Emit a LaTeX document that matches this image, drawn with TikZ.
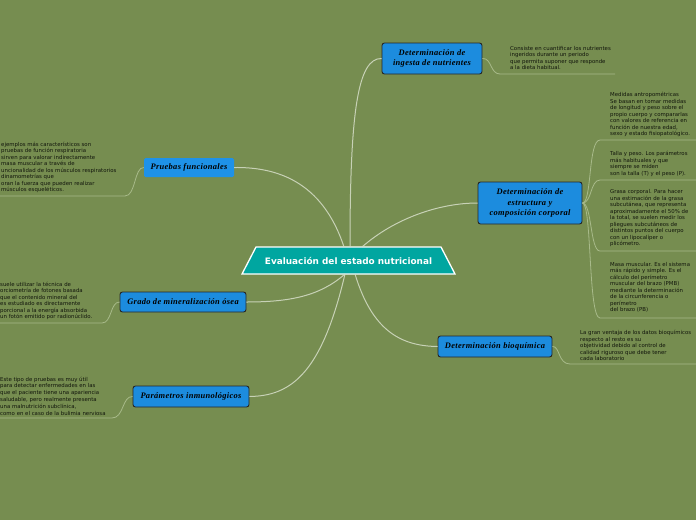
\documentclass[tikz,border=0pt]{standalone}
\usepackage{fontspec}
\setmainfont{Liberation Serif}
\newfontfamily\smallsans{DejaVu Sans}
\newfontfamily\branchfont{Liberation Serif}[LetterSpace=4.0]
\definecolor{bgc}{RGB}{118,141,80}
\definecolor{tealc}{RGB}{0,166,160}
\definecolor{boxblue}{RGB}{28,140,222}
\definecolor{lightblue}{RGB}{30,146,232}
\definecolor{mainline}{RGB}{214,222,200}
\definecolor{subline}{RGB}{168,186,138}
\definecolor{txtc}{RGB}{18,22,12}
\tikzset{
  branch/.style={draw=black!85, line width=0.9pt, fill=boxblue, rounded corners=2.5pt,
    align=center, inner sep=1pt, font=\branchfont\fontsize{8.4}{10.5}\selectfont\bfseries\itshape, text=black},
  branchlight/.style={fill=lightblue, rounded corners=1.5pt, align=center, inner sep=1pt,
    font=\branchfont\fontsize{8.4}{10.5}\selectfont\bfseries\itshape, text=black},
  note/.style={anchor=north west, align=left, inner sep=0pt, text=txtc,
    font=\smallsans\fontsize{5.4}{6.5}\selectfont},
  mainconn/.style={draw=mainline, line width=1pt, opacity=0.85},
  subconn/.style={draw=subline, line width=0.8pt},
}
\begin{document}
\begin{tikzpicture}[x=1pt,y=-1pt]
\fill[bgc] (0,0) rectangle (696,520);
\useasboundingbox (0,0) rectangle (696,520);
\clip (0,0) rectangle (696,520);

% central node
\draw[fill=tealc, draw=white, line width=1.3pt] (256,247) -- (441,247) -- (455,274) -- (242,274) -- cycle;
\node[text=white, font=\smallsans\bfseries\fontsize{8.9}{10}\selectfont] (center) at (348.5,261) {Evaluación del estado nutricional};
\coordinate (ctopL) at (344,247);
\coordinate (ctopM) at (350,247);
\coordinate (ctopR) at (362,247);
\coordinate (cbotL) at (345,274);
\coordinate (cbotR) at (355,274);

% branch nodes
\node[branch, minimum width=100pt, minimum height=31pt] (ing) at (432,58.5) {Determinación de\\ingesta de nutrientes};
\node[branch, minimum width=104pt, minimum height=42pt] (est) at (530,203) {Determinación de\\estructura y\\composición corporal};
\node[branch, minimum width=114pt, minimum height=21pt] (bio) at (495,346.5) {Determinación bioquímica};
\node[branchlight, minimum width=90pt, minimum height=19pt] (pru) at (189,167.5) {Pruebas funcionales};
\node[branch, minimum width=126pt, minimum height=20pt] (gra) at (183,302) {Grado de mineralización ósea};
\node[branch, minimum width=116pt, minimum height=21pt] (par) at (191,396.5) {Parámetros inmunológicos};

% main connectors
\draw[mainconn] (ctopM) .. controls (350,110) and (358,58) .. (ing.west);
\draw[mainconn] (ctopR) .. controls (395,218) and (440,203) .. (est.west);
\draw[mainconn] (cbotR) .. controls (372,330) and (400,346) .. (bio.west);
\draw[mainconn] (ctopL) .. controls (322,180) and (275,167) .. (pru.east);
\draw[mainconn] (cbotL) .. controls (320,296) and (290,302) .. (gra.east);
\draw[mainconn] (cbotL) .. controls (322,372) and (292,396) .. (par.east);

% notes
\node[note] (tIng) at (510,46) {Consiste en cuantificar los nutrientes\\ingeridos durante un periodo\\que permita suponer que responde\\a la dieta habitual.};
\node[note] (tMed) at (610,92) {Medidas antropométricas\\Se basan en tomar medidas\\de longitud y peso sobre el\\propio cuerpo y compararlas\\con valores de referencia en\\función de nuestra edad,\\sexo y estado fisiopatológico.};
\node[note] (tTal) at (610,151) {Talla y peso. Los parámetros\\más habituales y que\\siempre se miden\\son la talla (T) y el peso (P).};
\node[note] (tGra) at (610,189.5) {Grasa corporal. Para hacer\\una estimación de la grasa\\subcutánea, que representa\\aproximadamente el 50\% de\\la total, se suelen medir los\\pliegues subcutáneos de\\distintos puntos del cuerpo\\con un lipocalíper o\\plicómetro.};
\node[note] (tMas) at (610,262) {Masa muscular. Es el sistema\\más rápido y simple. Es el\\cálculo del perímetro\\muscular del brazo (PMB)\\mediante la determinación\\de la circunferencia o\\perímetro\\del brazo (PB)};
\node[note] (tBio) at (580,330) {La gran ventaja de los datos bioquímicos\\respecto al resto es su\\objetividad debido al control de\\calidad riguroso que debe tener\\cada laboratorio};
\node[note] (tPru) at (1,141.5) {ejemplos más característicos son\\pruebas de función respiratoria\\sirven para valorar indirectamente\\masa muscular a través de\\uncionalidad de los músculos respiratorios\\dinamometrías que\\oran la fuerza que pueden realizar\\músculos esqueléticos.};
\node[note] (tGrad) at (0,281.5) {suele utilizar la técnica de\\orciometría de fotones basada\\que el contenido mineral del\\es estudiado es directamente\\porcional a la energía absorbida\\un fotón emitido por radionúclido.};
\node[note, font=\smallsans\fontsize{5.4}{6.9}\selectfont] (tPar) at (0,376.5) {Este tipo de pruebas es muy útil\\para detectar enfermedades en las\\que el paciente tiene una apariencia\\saludable, pero realmente presenta\\una malnutrición subclínica,\\como en el caso de la bulimia nerviosa};

% underline end coordinates
\coordinate (uIngA) at (500,74); \coordinate (uIngB) at (615,74);
\coordinate (uMedA) at (600,140); \coordinate (uMedB) at (696,140);
\coordinate (uTalA) at (600,180); \coordinate (uTalB) at (696,180);
\coordinate (uGraA) at (600,251); \coordinate (uGraB) at (696,251);
\coordinate (uMasA) at (600,318); \coordinate (uMasB) at (696,318);
\coordinate (uBioA) at (570,364); \coordinate (uBioB) at (696,364);
\coordinate (uPruA) at (125,196); \coordinate (uPruB) at (0,196);
\coordinate (uGrdA) at (102,323); \coordinate (uGrdB) at (0,323);
\coordinate (uParA) at (112,418); \coordinate (uParB) at (0,418);

% sub connectors
\draw[subconn] (ing.east) .. controls (492,58) and (490,74) .. (uIngA) -- (uIngB);
\draw[subconn] (est.east) .. controls (592,203) and (588,140) .. (uMedA) -- (uMedB);
\draw[subconn] (est.east) .. controls (592,203) and (590,180) .. (uTalA) -- (uTalB);
\draw[subconn] (est.east) .. controls (592,203) and (590,251) .. (uGraA) -- (uGraB);
\draw[subconn] (est.east) .. controls (592,203) and (588,318) .. (uMasA) -- (uMasB);
\draw[subconn] (bio.east) .. controls (560,346) and (558,364) .. (uBioA) -- (uBioB);
\draw[subconn] (pru.west) .. controls (134,167) and (136,196) .. (uPruA) -- (uPruB);
\draw[subconn] (gra.west) .. controls (110,302) and (112,323) .. (uGrdA) -- (uGrdB);
\draw[subconn] (par.west) .. controls (122,396) and (124,418) .. (uParA) -- (uParB);
\end{tikzpicture}
\end{document}
